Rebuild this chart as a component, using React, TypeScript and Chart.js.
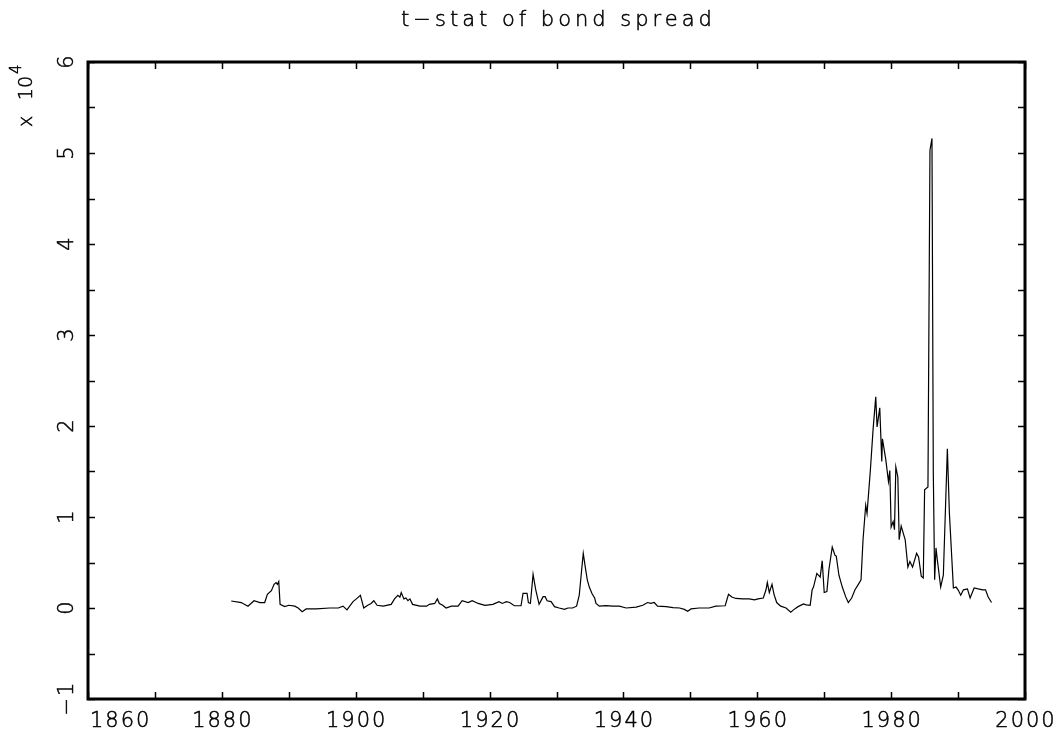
import React, { useEffect, useRef } from "react";
import { Chart, registerables } from "chart.js";

Chart.register(...registerables);

// Observation dates (decimal years)
const years = [
  1881.4, 1882.9, 1883.9, 1884.8, 1885.7, 1886.4, 1886.8, 1887.4, 1887.8, 1888.1,
  1888.3, 1888.5, 1888.7, 1889.4, 1890.0, 1890.9, 1891.4, 1892.0, 1892.6, 1894.1,
  1896.1, 1897.4, 1898.1, 1898.7, 1899.1, 1899.6, 1900.1, 1900.7, 1901.2, 1901.8,
  1902.3, 1902.7, 1903.2, 1904.1, 1905.3, 1905.8, 1906.3, 1906.6, 1906.8, 1907.2,
  1907.5, 1907.8, 1908.1, 1908.5, 1909.6, 1910.6, 1911.0, 1911.8, 1912.2, 1912.5,
  1913.0, 1913.5, 1914.3, 1915.3, 1915.9, 1916.8, 1917.4, 1918.3, 1919.3, 1920.5,
  1921.4, 1921.9, 1922.5, 1923.0, 1923.7, 1924.7, 1925.0, 1925.6, 1925.8, 1926.1,
  1926.5, 1926.9, 1927.4, 1928.0, 1928.3, 1928.6, 1929.2, 1929.7, 1930.4, 1931.2,
  1931.7, 1932.4, 1933.0, 1933.4, 1933.8, 1934.0, 1934.3, 1934.6, 1934.9, 1935.3,
  1935.7, 1935.9, 1936.4, 1937.4, 1938.4, 1939.4, 1940.4, 1941.9, 1942.9, 1943.6,
  1944.1, 1944.6, 1945.1, 1946.4, 1947.4, 1948.4, 1949.1, 1949.6, 1950.1, 1951.3,
  1952.8, 1953.8, 1955.2, 1955.7, 1956.2, 1956.8, 1957.8, 1958.8, 1959.6, 1960.1,
  1960.9, 1961.3, 1961.5, 1961.8, 1962.2, 1962.5, 1962.9, 1963.5, 1964.3, 1965.0,
  1965.5, 1966.1, 1966.9, 1967.3, 1967.9, 1968.2, 1968.4, 1968.9, 1969.4, 1969.7,
  1970.0, 1970.4, 1970.7, 1971.2, 1971.6, 1971.8, 1972.2, 1972.7, 1973.2, 1973.6,
  1974.1, 1974.6, 1975.1, 1975.5, 1975.8, 1976.2, 1976.4, 1976.9, 1977.3, 1977.7,
  1977.9, 1978.3, 1978.6, 1978.7, 1979.2, 1979.6, 1979.8, 1980.0, 1980.3, 1980.5,
  1980.7, 1981.0, 1981.2, 1981.5, 1982.1, 1982.5, 1982.8, 1983.2, 1983.8, 1984.1,
  1984.5, 1984.8, 1985.0, 1985.5, 1985.8, 1986.1, 1986.3, 1986.5, 1986.7, 1986.9,
  1987.4, 1987.8, 1988.4, 1988.7, 1989.3, 1989.7, 1990.0, 1990.4, 1990.8, 1991.4,
  1991.8, 1992.4, 1993.0, 1993.7, 1994.1, 1994.5, 1995.0,
];

// t-stat of bond spread, in units of 10^4
const tstat = [
  0.077, 0.06, 0.02, 0.08, 0.06, 0.06, 0.15, 0.19, 0.26, 0.28,
  0.26, 0.29, 0.04, 0.015, 0.03, 0.02, 0.0, -0.04, -0.01, -0.01,
  0.0, 0.0, 0.02, -0.02, 0.02, 0.07, 0.1, 0.14, 0.0, 0.03,
  0.05, 0.08, 0.03, 0.02, 0.04, 0.1, 0.14, 0.12, 0.17, 0.1,
  0.11, 0.08, 0.1, 0.04, 0.02, 0.02, 0.04, 0.05, 0.1, 0.05,
  0.03, 0.0, 0.02, 0.02, 0.08, 0.06, 0.08, 0.05, 0.03, 0.04,
  0.07, 0.05, 0.07, 0.06, 0.025, 0.025, 0.16, 0.16, 0.06, 0.05,
  0.37, 0.2, 0.04, 0.125, 0.125, 0.08, 0.07, 0.015, 0.0, -0.015,
  0.0, 0.0, 0.02, 0.14, 0.45, 0.6, 0.45, 0.31, 0.23, 0.16,
  0.11, 0.05, 0.02, 0.025, 0.02, 0.02, 0.0, 0.01, 0.03, 0.06,
  0.05, 0.06, 0.02, 0.015, 0.005, 0.0, -0.015, -0.035, -0.01, 0.0,
  0.0, 0.02, 0.025, 0.15, 0.12, 0.105, 0.1, 0.1, 0.09, 0.1,
  0.11, 0.2, 0.28, 0.17, 0.26, 0.15, 0.06, 0.02, 0.0, -0.045,
  -0.015, 0.015, 0.045, 0.035, 0.03, 0.2, 0.23, 0.38, 0.34, 0.52,
  0.17, 0.18, 0.42, 0.67, 0.58, 0.57, 0.36, 0.23, 0.125, 0.06,
  0.11, 0.2, 0.26, 0.31, 0.75, 1.13, 1.04, 1.52, 1.96, 2.32,
  1.99, 2.2, 1.61, 1.86, 1.63, 1.39, 1.51, 0.89, 0.95, 0.86,
  1.55, 1.44, 0.75, 0.9, 0.75, 0.45, 0.51, 0.45, 0.6, 0.56,
  0.35, 0.33, 1.3, 1.33, 5.03, 5.16, 1.48, 0.31, 0.66, 0.53,
  0.23, 0.36, 1.75, 1.05, 0.22, 0.23, 0.2, 0.14, 0.2, 0.21,
  0.11, 0.22, 0.21, 0.2, 0.2, 0.12, 0.06,
];

const xMajorTicks = [1860, 1880, 1900, 1920, 1940, 1960, 1980, 2000];
const xMinorTicks = [1860, 1870, 1880, 1890, 1900, 1910, 1920, 1930, 1940, 1950, 1960, 1970, 1980, 1990, 2000];
const yMajorTicks = [-1, 0, 1, 2, 3, 4, 5, 6];
const yMinorTicks = [-1, -0.5, 0, 0.5, 1, 1.5, 2, 2.5, 3, 3.5, 4, 4.5, 5, 5.5, 6];

const titleText = "t\u2212stat of bond spread";
const FONT = "'DejaVu Sans', 'Liberation Sans', sans-serif";

function drawText(ctx: CanvasRenderingContext2D, s: string, x: number, y: number) {
  ctx.fillText(s, x, y);
  ctx.strokeText(s, x, y);
}

const framePlugin = {
  id: "framePlugin",
  afterDraw(chart: any) {
    const { ctx, chartArea } = chart;
    const xs = chart.scales.x;
    const ys = chart.scales.y;
    const { left, right, top, bottom } = chartArea;
    ctx.save();
    ctx.strokeStyle = "#000";
    ctx.fillStyle = "#000";
    // ticks
    ctx.lineWidth = 1.5;
    const tl = 7;
    ctx.beginPath();
    xMinorTicks.forEach((v) => {
      const px = Math.round(xs.getPixelForValue(v)) + 0.5;
      ctx.moveTo(px, bottom);
      ctx.lineTo(px, bottom - tl);
      ctx.moveTo(px, top);
      ctx.lineTo(px, top + tl);
    });
    yMinorTicks.forEach((v) => {
      const py = Math.round(ys.getPixelForValue(v)) + 0.5;
      ctx.moveTo(left, py);
      ctx.lineTo(left + tl, py);
      ctx.moveTo(right, py);
      ctx.lineTo(right - tl, py);
    });
    ctx.stroke();
    // frame
    ctx.lineWidth = 3;
    ctx.strokeRect(left, top, right - left, bottom - top);

    // labels
    ctx.lineWidth = 0.5;
    ctx.font = `200 21px ${FONT}`;
    (ctx as any).letterSpacing = "2px";
    ctx.textBaseline = "middle";
    xMajorTicks.forEach((v) => {
      const px = xs.getPixelForValue(v);
      const label = String(v);
      const w = ctx.measureText(label).width - 2;
      let x0 = px - w / 2;
      if (x0 < left) x0 = left + 2;
      ctx.textAlign = "left";
      drawText(ctx, label, x0, bottom + 23);
    });
    yMajorTicks.forEach((v) => {
      const py = ys.getPixelForValue(v);
      const label = v < 0 ? "\u2212" + String(-v) : String(v);
      ctx.save();
      ctx.translate(68, py);
      ctx.rotate(-Math.PI / 2);
      ctx.textAlign = "center";
      drawText(ctx, label, 1, 0);
      ctx.restore();
    });
    // exponent label
    ctx.save();
    ctx.translate(27, 127);
    ctx.rotate(-Math.PI / 2);
    ctx.textAlign = "left";
    ctx.font = `200 19px ${FONT}`;
    (ctx as any).letterSpacing = "0px";
    drawText(ctx, "x", 0, 0);
    drawText(ctx, "10", 27, 0);
    ctx.font = `200 15px ${FONT}`;
    drawText(ctx, "4", 53, -10);
    ctx.restore();
    // title
    ctx.font = `200 21px ${FONT}`;
    (ctx as any).letterSpacing = "4px";
    ctx.textAlign = "center";
    drawText(ctx, titleText, (left + right) / 2 + 2, 21);
    ctx.restore();
  },
};

export default function App() {
  const canvasRef = useRef<HTMLCanvasElement | null>(null);
  useEffect(() => {
    if (!canvasRef.current) return;
    const chart = new Chart(canvasRef.current, {
      type: "line",
      data: {
        datasets: [
          {
            data: years.map((yr, i) => ({ x: yr, y: tstat[i] })),
            borderColor: "#000",
            borderWidth: 1.2,
            pointRadius: 0,
            tension: 0,
            fill: false,
          },
        ],
      },
      options: {
        responsive: false,
        animation: false,
        events: [],
        layout: { padding: { left: 88, top: 62, right: 35, bottom: 41 } },
        plugins: { legend: { display: false }, tooltip: { enabled: false }, title: { display: false } },
        scales: {
          x: { type: "linear", min: 1860, max: 2000, display: false },
          y: { type: "linear", min: -1, max: 6, display: false },
        },
      },
      plugins: [framePlugin],
    });
    return () => chart.destroy();
  }, []);
  return (
    <div style={{ position: "absolute", left: 0, top: 0, width: 1060, height: 740, background: "#fff" }}>
      <canvas ref={canvasRef} width={1060} height={740} />
    </div>
  );
}
